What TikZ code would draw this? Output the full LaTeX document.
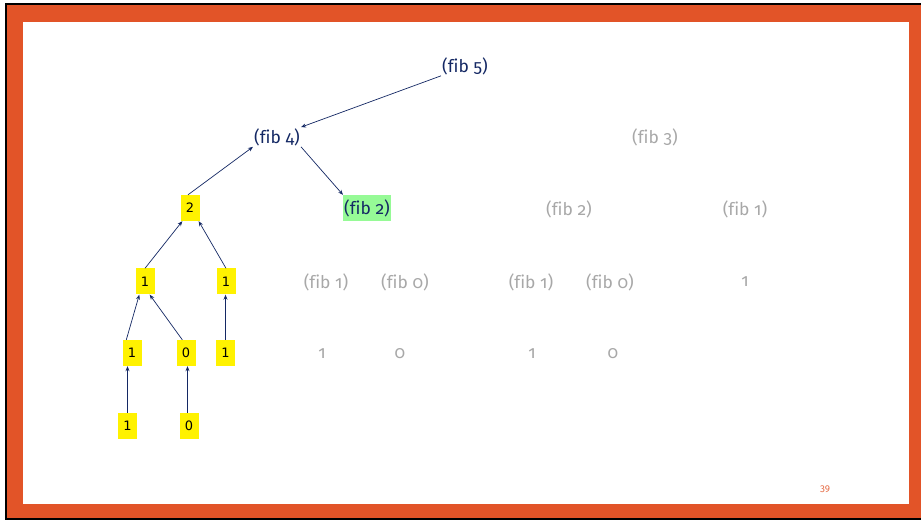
\documentclass[tikz,border=0pt]{standalone}
\usepackage{fontspec}
\setmainfont{Fira Sans}[Numbers=OldStyle, Ligatures=NoCommon]
\newfontfamily\boxfont{DejaVu Sans}
\usetikzlibrary{arrows.meta}
\definecolor{navy}{RGB}{20,40,100}
\definecolor{greytxt}{RGB}{168,168,168}
\definecolor{frameorange}{RGB}{226,84,40}
\definecolor{hlgreen}{RGB}{150,250,150}
\tikzset{
  lbl/.style={font=\fontsize{17.5}{20}\selectfont, text=navy, inner sep=1bp},
  ghost/.style={font=\fontsize{17.5}{20}\selectfont, text=greytxt, inner sep=1bp},
  ybox/.style={fill=yellow, font=\boxfont\fontsize{13}{14}\selectfont, text=black, minimum width=19bp, minimum height=26bp, inner sep=0pt},
  gbox/.style={lbl, fill=hlgreen, minimum height=26bp, inner xsep=1bp},
  arr/.style={draw=navy, line width=0.7bp, -{Stealth[length=5bp,width=4bp]}},
}
\begin{document}
\begin{tikzpicture}[x=1bp,y=-1bp]
\useasboundingbox (0,0) rectangle (921,520);
% frame
\fill[black] (5,3) rectangle (921,520);
\fill[frameorange] (7,5) rectangle (921,518);
\fill[white] (23,22) rectangle (909,504);
% labelled calls
\node[lbl] (f5) at (465,66) {(fib 5)};
\node[lbl] (f4) at (277,137) {(fib 4)};
\node[ghost] (f3) at (655,137) {(fib 3)};
\node[ybox] (two) at (190,208) {2};
\node[gbox] (f2g) at (367,208) {(fib 2)};
\node[ghost] (f2b) at (569,209) {(fib 2)};
\node[ghost] (f1c) at (745,209) {(fib 1)};
% row 4
\node[ybox] (r4a) at (145,281.5) {1};
\node[ybox] (r4b) at (226,281.5) {1};
\node[ghost] (g4a) at (326,282) {(fib 1)};
\node[ghost] (g4b) at (405,282) {(fib 0)};
\node[ghost] (g4c) at (531,282) {(fib 1)};
\node[ghost] (g4d) at (610,282) {(fib 0)};
\node[ghost] (g4e) at (745,282) {1};
% row 5
\node[ybox] (r5a) at (132,353) {1};
\node[ybox] (r5b) at (186,353) {0};
\node[ybox] (r5c) at (225.5,353) {1};
\node[ghost] (g5a) at (322,354) {1};
\node[ghost] (g5b) at (400,354) {0};
\node[ghost] (g5c) at (532,354) {1};
\node[ghost] (g5d) at (613,354) {0};
% row 6
\node[ybox] (r6a) at (127.5,426) {1};
\node[ybox] (r6b) at (189,426) {0};
% page number
\node[font=\fontsize{10}{11}\selectfont, text=frameorange!85, inner sep=0pt] (pg) at (825,489) {39};
% connectors
\draw[arr] (f5.south west) -- (f4.north east);
\draw[arr] (f4.south east) -- (f2g.north west);
\draw[arr] ([xshift=-2bp]two.north) -- (f4.south west);
\draw[arr] (r4a.north) -- ([xshift=2bp]two.south west);
\draw[arr] (r4b.north) -- ([xshift=-1bp]two.south east);
\draw[arr] ([xshift=4bp]r5a.north west) -- ([xshift=4bp]r4a.south west);
\draw[arr] ([xshift=6bp]r5b.north west) -- ([xshift=-5bp]r4a.south east);
\draw[arr] (r5c.north) -- (r5c.north |- r4b.south);
\draw[arr] (r6a.north) -- (r6a.north |- r5a.south);
\draw[arr] ([xshift=-1.5bp]r6b.north) -- ([xshift=-1.5bp]r6b.north |- r5b.south);
\end{tikzpicture}
\end{document}
